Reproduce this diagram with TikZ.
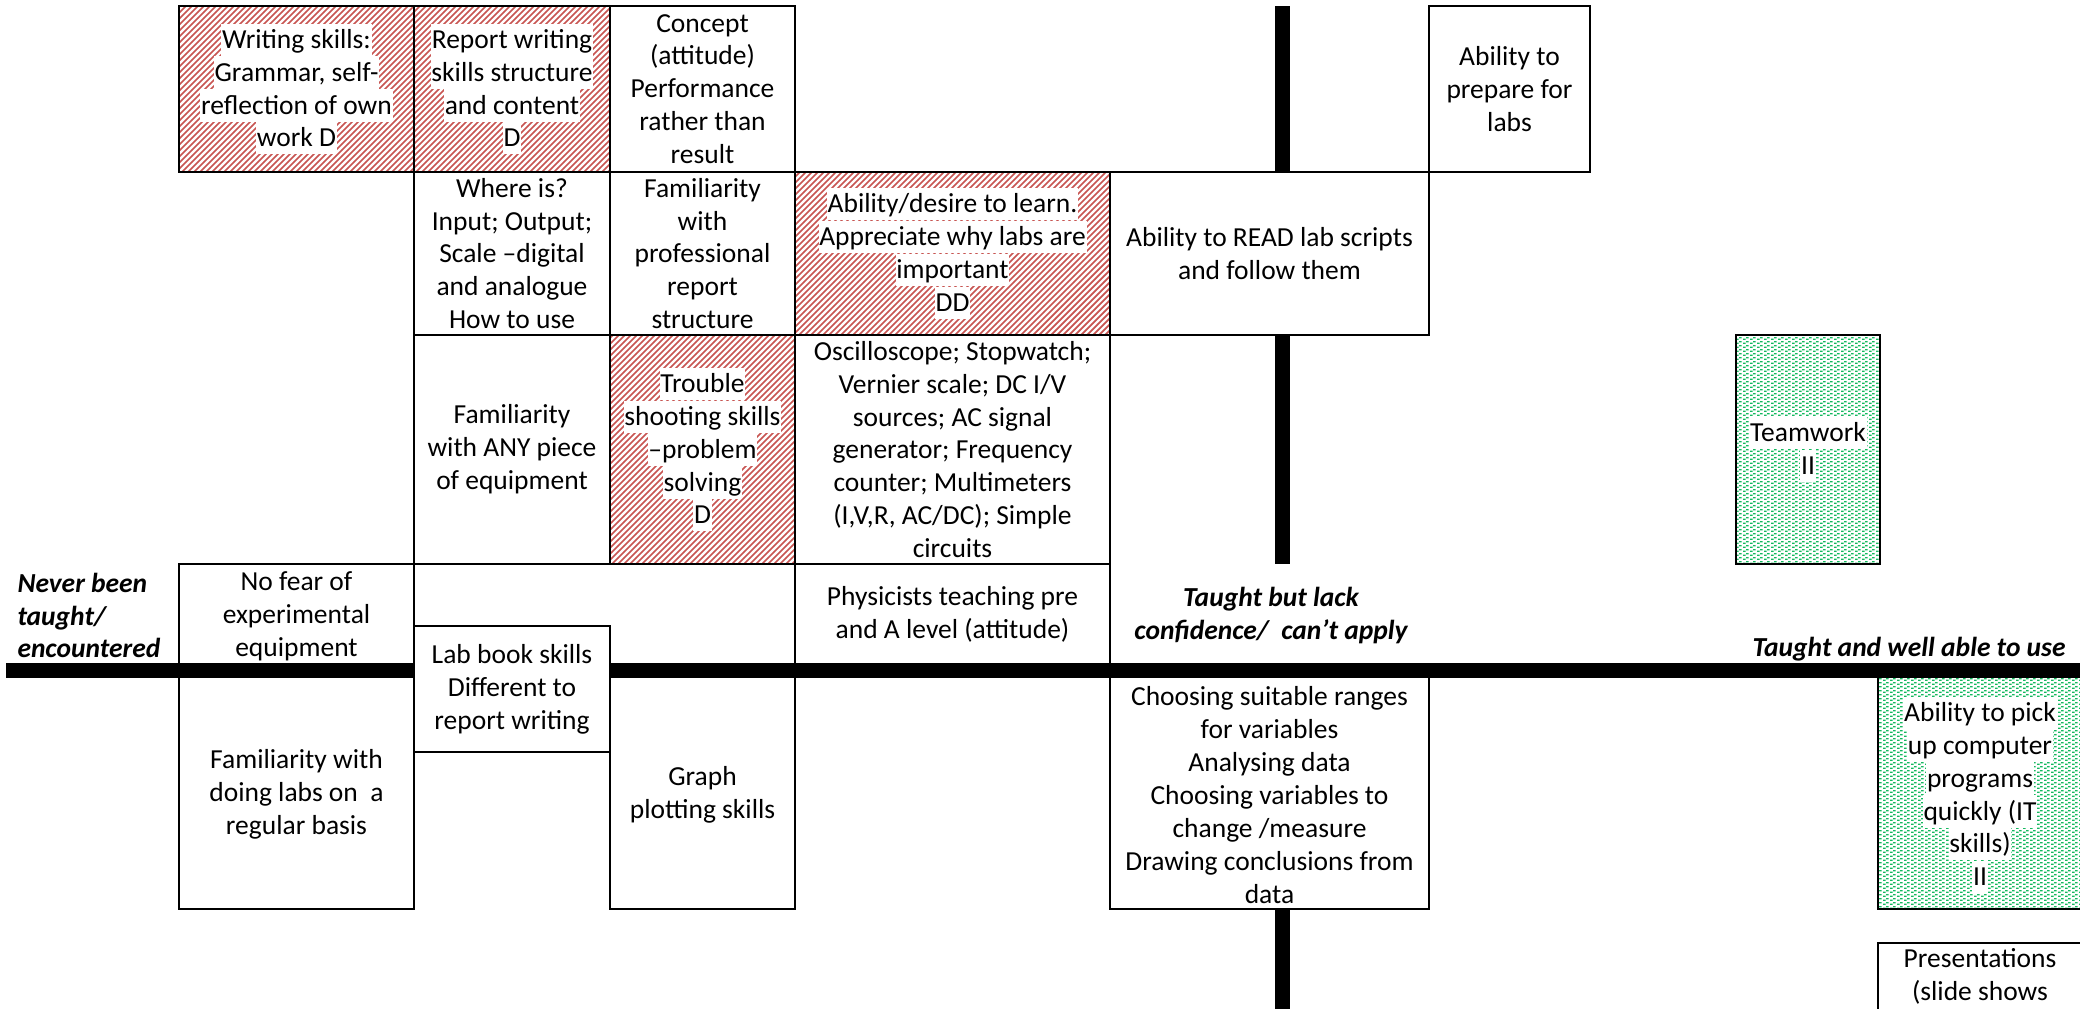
\documentclass[tikz,border=0pt]{standalone}
\usepackage{fontspec}
\setmainfont{Carlito}
\usetikzlibrary{patterns}
\definecolor{hatchred}{RGB}{200,85,82}
\definecolor{dotgreen}{RGB}{20,185,95}
\pgfdeclarepatternformonly{redhatch}{\pgfqpoint{-0.8pt}{-0.8pt}}{\pgfqpoint{3.2pt}{3.2pt}}{\pgfqpoint{2.4pt}{2.4pt}}{%
  \pgfsetlinewidth{0.7pt}%
  \pgfpathmoveto{\pgfqpoint{0pt}{0pt}}%
  \pgfpathlineto{\pgfqpoint{2.48pt}{2.48pt}}%
  \pgfusepath{stroke}}
\pgfdeclarepatternformonly{greendots}{\pgfqpoint{0pt}{0pt}}{\pgfqpoint{2.8pt}{1.6pt}}{\pgfqpoint{2.8pt}{1.6pt}}{%
  \pgfpathrectangle{\pgfqpoint{0pt}{0pt}}{\pgfqpoint{1.2pt}{0.65pt}}%
  \pgfpathrectangle{\pgfqpoint{1.4pt}{0.8pt}}{\pgfqpoint{1.2pt}{0.65pt}}%
  \pgfusepath{fill}}
\newcommand\bodyfont{\fontsize{11pt}{13.15pt}\selectfont}
\newcommand\hl[1]{{\setlength\fboxsep{0.3pt}\colorbox{white}{\rule[-2.7pt]{0pt}{12.3pt}#1}}}
\newcommand\bx[7]{\node[#6, minimum width={(#4-#2)*0.4pt}, minimum height={(#5-#3)*0.4pt}] (#1) at ({(#2+#4)/2},{(#3+#5)/2}) {#7};}
\begin{document}
\begin{tikzpicture}[x=0.4pt,y=-0.4pt,
  base/.style={draw=black, line width=1pt, align=center, inner sep=0pt, font=\bodyfont},
  box/.style={base, fill=white},
  redbox/.style={base, preaction={fill=white}, pattern=redhatch, pattern color=hatchred},
  greenbox/.style={base, preaction={fill=white}, pattern=greendots, pattern color=dotgreen},
  axis/.style={line width=6pt, black},
  axislabel/.style={font=\bodyfont\bfseries\itshape, inner sep=0pt}]
\useasboundingbox (0,0) rectangle (2080,1008);
\clip (0,0) rectangle (2080,1008);
% top row
\bx{ws}{179}{6}{414}{172}{redbox}{\hl{Writing skills:}\\\hl{Grammar, self-}\\\hl{reflection of own}\\\hl{work D}}
\bx{rw}{414}{6}{610}{172}{redbox}{\hl{Report writing}\\\hl{skills structure}\\\hl{and content}\\\hl{D}}
\bx{cp}{610}{6}{795}{172}{box}{Concept\\(attitude)\\Performance\\rather than\\result}
\bx{ap}{1429}{6}{1590}{172}{box}{Ability to\\prepare for\\labs}
% second row
\bx{wi}{414}{172}{610}{335}{box}{Where is?\\Input; Output;\\Scale –digital\\and analogue\\How to use}
\bx{fp}{610}{172}{795}{335}{box}{Familiarity\\with\\professional\\report\\structure}
\bx{ad}{795}{172}{1110}{335}{redbox}{\hl{Ability/desire to learn.}\\\hl{Appreciate why labs are}\\\hl{important}\\\hl{DD}}
\bx{rd}{1110}{172}{1429}{335}{box}{Ability to READ lab scripts\\and follow them}
% third row
\bx{fa}{414}{335}{610}{564}{box}{Familiarity\\with ANY piece\\of equipment}
\bx{ts}{610}{335}{795}{564}{redbox}{\hl{Trouble}\\\hl{shooting skills}\\\hl{–problem}\\\hl{solving}\\\hl{D}}
\bx{os}{795}{335}{1110}{564}{box}{Oscilloscope; Stopwatch;\\Vernier scale; DC I/V\\sources; AC signal\\generator; Frequency\\counter; Multimeters\\(I,V,R, AC/DC); Simple\\circuits}
\bx{tw}{1736}{335}{1880}{564}{greenbox}{\hl{Teamwork}\\\hl{II}}
% fourth row (above axis)
\bx{nf}{179}{564}{414}{670}{box}{}
\bx{eb}{414}{564}{795}{670}{box}{}
\bx{ph}{795}{564}{1110}{670}{box}{}
% below axis
\bx{fl}{179}{670}{414}{909}{box}{}
\bx{gp}{610}{670}{795}{909}{box}{}
\bx{ch}{1110}{670}{1429}{909}{box}{}
\bx{ip}{1878}{670}{2082}{909}{greenbox}{}
\bx{pr}{1878}{943}{2082}{1100}{box}{}
% texts of boxes that meet the axis
\node[font=\bodyfont, align=center, inner sep=0pt] (nft) at (296.5,616) {No fear of\\experimental\\equipment};
\node[font=\bodyfont, align=center, inner sep=0pt] (pht) at (952.5,614) {Physicists teaching pre\\and A level (attitude)};
\node[font=\bodyfont, align=center, inner sep=0pt] (flt) at (296.5,794) {Familiarity with\\doing labs on\ \ a\\regular basis};
\node[font=\bodyfont, align=center, inner sep=0pt] (gpt) at (702.5,795) {Graph\\plotting skills};
\node[font=\bodyfont, align=center, inner sep=0pt] (cht) at (1269.5,795) {Choosing suitable ranges\\for variables\\Analysing data\\Choosing variables to\\change /measure\\Drawing conclusions from\\data};
\node[font=\bodyfont, align=center, inner sep=0pt] (ipt) at (1980,795) {\hl{Ability to pick}\\\hl{up computer}\\\hl{programs}\\\hl{quickly (IT}\\\hl{skills)}\\\hl{II}};
\node[font=\bodyfont, align=center, inner sep=0pt, anchor=north] (prt) at (1980,948) {Presentations\\(slide shows};
% axes
\coordinate (hL) at (6,670.5);
\coordinate (hR) at (2090,670.5);
\draw[axis] (hL) -- (hR);
\coordinate (v1a) at (1282.5,6);
\coordinate (v1b) at (1282.5,172);
\coordinate (v2a) at (1282.5,335);
\coordinate (v2b) at (1282.5,564);
\coordinate (v3a) at (1282.5,909);
\coordinate (v3b) at (1282.5,1010);
\draw[axis] (v1a) -- (v1b);
\draw[axis] (v2a) -- (v2b);
\draw[axis] (v3a) -- (v3b);
% lab book box over the axis
\bx{lb}{414}{626}{610}{752}{box}{Lab book skills\\Different to\\report writing}
% axis labels
\node[axislabel, align=left, anchor=west] (never) at (17,615.5) {Never been\\taught/\\encountered};
\node[axislabel, align=center] (lack) at (1271,615.5) {Taught but lack\\confidence/\ \ can’t apply};
\node[axislabel, anchor=east] (well) at (2066,649) {Taught and well able to use};
\end{tikzpicture}
\end{document}
